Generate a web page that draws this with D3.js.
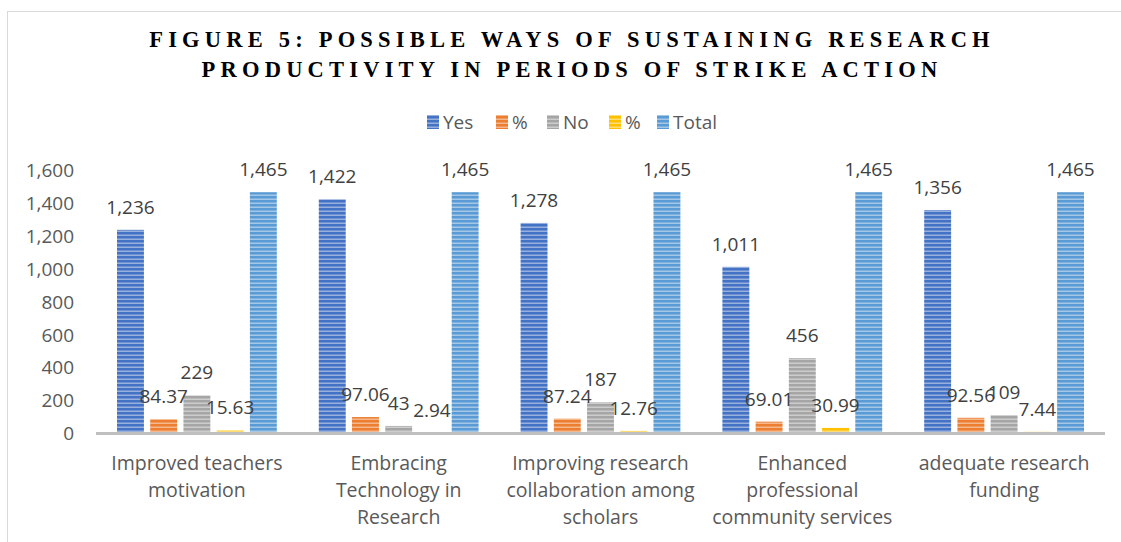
<!DOCTYPE html>
<html><head><meta charset="utf-8">
<script src="https://cdn.jsdelivr.net/npm/d3@7"></script>
<style>body{margin:0;background:#fff}svg{display:block}</style>
</head><body>
<script>
const categories = [
  ["Improved teachers","motivation"],
  ["Embracing","Technology in","Research"],
  ["Improving research","collaboration among","scholars"],
  ["Enhanced","professional","community services"],
  ["adequate research","funding"]
];
const seriesNames = ["Yes","%","No","%","Total"];
const yesVals = [1236,1422,1278,1011,1356];
const yesPct = [84.37,97.06,87.24,69.01,92.56];
const noVals = [229,43,187,456,109];
const noPct = [15.63,2.94,12.76,30.99,7.44];
const totalVals = [1465,1465,1465,1465,1465];
const yTicks = [0,200,400,600,800,1000,1200,1400,1600];
const seriesValues = [yesVals,yesPct,noVals,noPct,totalVals];
const colors = ["#4472C4","#ED7D31","#A5A5A5","#FFC000","#5B9BD5"];
const fmt = d3.format(",");
const labelFmt = v => Number.isInteger(v) ? fmt(v) : v.toFixed(2);

const W=1121,H=542;
const svg=d3.select("body").append("svg").attr("width",W).attr("height",H);
const defs=svg.append("defs");
colors.forEach((c,i)=>{
  const p=defs.append("pattern").attr("id","pat"+i).attr("patternUnits","userSpaceOnUse")
    .attr("width",8).attr("height",4);
  p.append("rect").attr("width",8).attr("height",4).attr("fill",c);
  p.append("rect").attr("y",2.6).attr("width",8).attr("height",1.2).attr("fill","#fff").attr("opacity",0.55);
});

svg.append("rect").attr("x",7.5).attr("y",11.5).attr("width",W).attr("height",H).attr("fill","none").attr("stroke","#D9D9D9");

// title
const title=svg.append("text").attr("text-anchor","middle").attr("font-family","Liberation Serif").attr("font-weight","bold")
  .attr("font-size",22.5).attr("letter-spacing",5.2).attr("fill","#000");
title.append("tspan").attr("x",572).attr("y",47).text("FIGURE 5: POSSIBLE WAYS OF SUSTAINING RESEARCH");
title.append("tspan").attr("x",572).attr("y",77).text("PRODUCTIVITY IN PERIODS OF STRIKE ACTION");

// legend
const legX=[427,496,547,609,657];
const leg=svg.append("g").attr("font-family","Open Sans").attr("font-size",19).attr("fill","#595959");
seriesNames.forEach((n,i)=>{
  leg.append("rect").attr("x",legX[i]).attr("y",115).attr("width",12).attr("height",14).attr("fill","url(#pat"+i+")");
  leg.append("text").attr("x",legX[i]+16).attr("y",129).text(n);
});

const x0=d3.scaleBand().domain(d3.range(5)).range([96,1105]).paddingInner(0).paddingOuter(0);
const x1=d3.scaleBand().domain(d3.range(5)).range([21,x0.bandwidth()-21]).paddingInner(0.19).paddingOuter(0);
const y=d3.scaleLinear().domain([0,1600]).range([433,170]);

// y axis labels
const ya=svg.append("g").attr("transform","translate(74,0)")
  .call(d3.axisLeft(y).tickValues(yTicks).tickFormat(fmt).tickSize(0).tickPadding(0));
ya.select(".domain").remove();
ya.selectAll("text").attr("font-family","Open Sans").attr("font-size",19).attr("fill","#595959").attr("dy","0.35em");

// bars
const g=svg.append("g");
categories.forEach((c,ci)=>{
  seriesValues.forEach((vals,si)=>{
    const v=vals[ci];
    const bx=x0(ci)+x1(si);
    g.append("rect").attr("x",bx).attr("y",y(v)).attr("width",x1.bandwidth()).attr("height",y(0)-y(v))
      .attr("fill","url(#pat"+si+")");
  });
});
// baseline
svg.append("line").attr("x1",96).attr("x2",1105).attr("y1",433.5).attr("y2",433.5).attr("stroke","#BFBFBF").attr("stroke-width",3);
// labels
const lab=svg.append("g").attr("font-family","Open Sans").attr("font-size",19).attr("fill","#404040").attr("text-anchor","middle");
categories.forEach((c,ci)=>{
  seriesValues.forEach((vals,si)=>{
    const v=vals[ci];
    lab.append("text").attr("x",x0(ci)+x1(si)+x1.bandwidth()/2).attr("y",y(v)-16).text(labelFmt(v));
  });
});
// category labels
const cl=svg.append("g").attr("font-family","Open Sans").attr("font-size",19.5).attr("fill","#595959").attr("text-anchor","middle");
categories.forEach((lines,ci)=>{
  const t=cl.append("text");
  lines.forEach((l,li)=>t.append("tspan").attr("x",x0(ci)+x0.bandwidth()/2).attr("y",470+li*27).text(l));
});
</script>
</body></html>
